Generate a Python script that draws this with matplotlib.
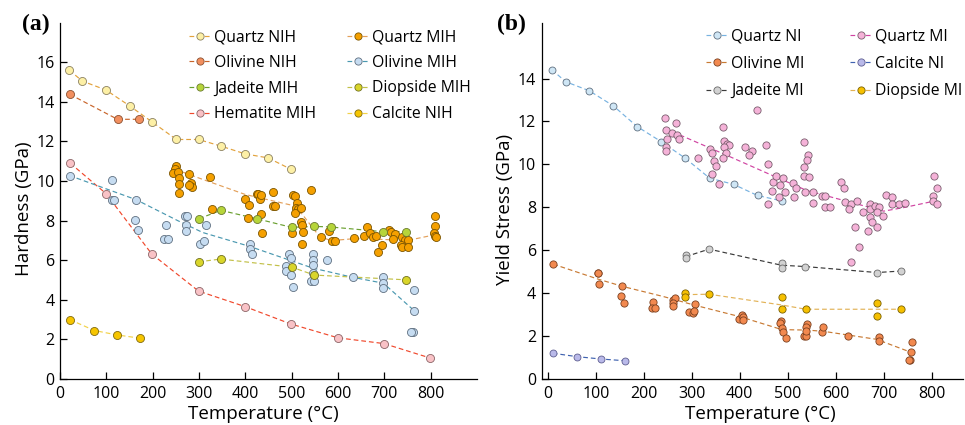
import matplotlib
matplotlib.use('Agg')
import matplotlib.pyplot as plt
from matplotlib.lines import Line2D

plt.rcParams['font.family'] = ['Open Sans', 'DejaVu Sans']

# ---------------- Panel (a): Hardness ----------------
quartz_nih_T = [20, 48, 99, 150, 199, 251, 299, 348, 400, 449, 498]
quartz_nih_H = [15.6, 15.05, 14.6, 13.8, 12.98, 12.1, 12.1, 11.76, 11.37, 11.17, 10.6]

olivine_nih_T = [21, 124, 171]
olivine_nih_H = [14.38, 13.12, 13.12]

hematite_mih_T = [22, 99, 198, 299, 399, 498, 600, 699, 799]
hematite_mih_H = [10.9, 9.37, 6.31, 4.44, 3.66, 2.78, 2.08, 1.79, 1.06]

calcite_nih_T = [21, 74, 122, 173]
calcite_nih_H = [3.0, 2.45, 2.23, 2.06]

jadeite_mih_T = [300, 347, 424, 500, 549, 584, 698, 747]
jadeite_mih_H = [8.1, 8.52, 8.1, 7.66, 7.71, 7.68, 7.44, 7.44]

diopside_mih_T = [299, 347, 500, 549, 747]
diopside_mih_H = [5.92, 6.06, 5.65, 5.25, 5.01]

olivine_mih_T = [22, 113, 113, 117, 164, 162, 169, 229, 224, 233, 270, 274, 271, 271,
                 316, 301, 310, 411, 410, 414, 494, 498, 488, 488, 498, 503,
                 547, 547, 547, 577, 545, 541, 548, 632, 698, 697, 698, 765, 765, 761, 757]
olivine_mih_H = [10.28, 10.04, 9.06, 9.04, 9.06, 8.05, 7.51, 7.76, 7.09, 7.09, 8.22, 8.22, 7.76, 7.5,
                 7.76, 6.84, 6.99, 6.84, 6.55, 6.31, 6.31, 6.1, 5.71, 5.45, 5.23, 4.63,
                 6.31, 6.03, 5.77, 5.99, 5.35, 4.97, 4.97, 5.13, 5.13, 4.87, 4.62, 4.5, 3.44, 2.36, 2.36]
olivine_mih_trend_T = [20, 164, 254, 308, 409, 496, 546, 633, 698, 765]
olivine_mih_trend_H = [10.28, 9.06, 8.0, 7.4, 6.7, 6.0, 5.6, 5.13, 4.84, 3.44]

quartz_mih_T = [251, 249, 244, 254, 257, 257, 256, 279, 282, 284, 278, 323, 328,
                400, 408, 406, 424, 428, 432, 434, 434, 435, 459, 460, 464,
                503, 507, 511, 509, 514, 507, 519, 521, 523, 525, 500, 522, 542,
                563, 580, 587, 593, 634, 656, 663, 668, 676, 683, 686, 695,
                711, 715, 722, 719, 738, 744, 752, 735, 739, 752, 810, 810, 807, 810, 812]
quartz_mih_H = [10.75, 10.6, 10.41, 10.45, 10.16, 9.87, 9.4, 10.38, 9.91, 9.71, 9.8, 10.23, 8.6,
                9.1, 8.78, 8.12, 9.37, 9.37, 9.08, 9.28, 8.35, 7.36, 9.45, 8.73, 8.73,
                9.28, 9.23, 8.88, 8.65, 8.6, 8.37, 8.64, 7.93, 7.8, 7.43, 7.4, 6.8, 9.57,
                7.17, 7.46, 6.99, 6.99, 7.1, 7.2, 7.66, 7.4, 7.16, 7.24, 6.43, 6.76,
                7.51, 7.45, 7.32, 7.07, 7.17, 7.04, 7.04, 6.75, 6.65, 6.65, 8.23, 7.73, 7.36, 7.2, 7.15]
quartz_mih_trend_T = [250, 300, 400, 500, 520, 560, 585, 635, 675, 750, 810]
quartz_mih_trend_H = [10.58, 10.15, 9.32, 8.78, 8.4, 7.2, 6.99, 7.09, 7.07, 7.0, 7.29]

# ---------------- Panel (b): Yield stress ----------------
quartz_ni_T = [8, 37, 86, 136, 186, 236, 286, 337, 387, 437, 487]
quartz_ni_Y = [14.41, 13.85, 13.43, 12.73, 11.76, 11.06, 10.29, 9.36, 9.07, 8.55, 8.3]

calcite_ni_T = [10, 61, 111, 161]
calcite_ni_Y = [1.2, 1.04, 0.93, 0.85]

jadeite_mi_T = [287, 287, 336, 487, 487, 536, 686, 736]
jadeite_mi_Y = [5.78, 5.63, 6.05, 5.42, 5.16, 5.24, 4.96, 5.03]
jadeite_mi_trend_T = [287, 336, 487, 536, 686, 736]
jadeite_mi_trend_Y = [5.7, 6.05, 5.3, 5.24, 4.96, 5.03]

diopside_mi_T = [286, 286, 336, 487, 487, 538, 686, 686, 736]
diopside_mi_Y = [4.02, 3.84, 3.95, 3.84, 3.25, 3.25, 3.54, 2.95, 3.25]
diopside_mi_trend_T = [286, 336, 487, 538, 686, 736]
diopside_mi_trend_Y = [3.93, 3.95, 3.45, 3.25, 3.25, 3.25]

olivine_mi_T = [11, 104, 105, 106, 154, 152, 159, 220, 216, 224, 260, 265, 261, 261,
                307, 294, 302, 305, 398, 404, 406, 406, 485, 484, 489, 491, 496,
                533, 539, 541, 539, 539, 571, 574, 626, 691, 691, 759, 758, 755, 753]
olivine_mi_Y = [5.35, 4.93, 4.93, 4.43, 4.35, 3.86, 3.54, 3.59, 3.31, 3.31, 3.68, 3.76, 3.53, 3.4,
                3.5, 3.11, 3.06, 3.18, 2.78, 2.98, 2.88, 2.75, 2.7, 2.6, 2.39, 2.2, 1.9,
                2.02, 2.02, 2.56, 2.41, 2.25, 2.2, 2.41, 2.0, 1.94, 1.79, 1.71, 1.26, 0.87, 0.87]
olivine_mi_trend_T = [11, 105, 158, 241, 304, 401, 488, 540, 575, 685, 748]
olivine_mi_trend_Y = [5.35, 4.65, 4.3, 3.84, 3.45, 2.9, 2.3, 2.28, 2.22, 1.85, 1.32]

quartz_mi_T = [244, 268, 246, 258, 270, 273, 249, 246, 246,
               312, 338, 343, 366, 368, 373, 378, 368, 371, 364, 347, 350, 343, 357,
               435, 411, 426, 420, 454, 458, 458,
               470, 475, 467, 484, 490, 482, 494, 510, 517, 513,
               533, 543, 540, 533, 533, 545, 537, 553, 552,
               571, 578, 577, 588,
               611, 617, 620, 631, 628, 645, 656, 640, 649, 632,
               672, 672, 672, 675, 668, 682, 691, 687, 686, 699,
               705, 717, 718, 733, 745,
               804, 811, 802, 802, 811]
quartz_mi_Y = [12.15, 11.95, 11.58, 11.48, 11.36, 11.17, 11.2, 10.8, 10.6,
               10.29, 10.71, 10.55, 11.72, 11.11, 10.96, 10.88, 10.83, 10.55, 10.29, 10.16, 9.93, 9.54, 9.09,
               12.54, 10.83, 10.64, 10.44, 10.88, 10.02, 8.16,
               9.2, 9.48, 8.76, 9.04, 9.36, 8.5, 8.69, 9.12, 8.92, 8.5,
               11.02, 10.44, 10.18, 9.9, 9.48, 9.4, 8.69, 8.7, 8.19,
               8.53, 8.53, 8.0, 8.0,
               9.18, 8.92, 8.24, 8.16, 7.91, 8.31, 7.77, 7.07, 6.15, 5.45,
               8.14, 7.93, 7.57, 7.33, 6.91, 8.07, 8.0, 7.79, 7.1, 7.6,
               8.56, 8.5, 8.14, 8.14, 8.22,
               9.48, 8.92, 8.53, 8.27, 8.16]
quartz_mi_trend_T = [275, 370, 456, 540, 620, 700, 745, 808]
quartz_mi_trend_Y = [11.37, 10.45, 9.6, 8.78, 8.3, 7.82, 8.0, 8.3]

# ---------------- figure ----------------
W, H = 965, 425
fig = plt.figure(figsize=(W / 100, H / 100), dpi=100)


def ax_px(l, r, t, b):
    return fig.add_axes([l / W, 1 - b / H, (r - l) / W, (b - t) / H])


axA = ax_px(60.1, 477, 22.7, 379)
axB = ax_px(541.5, 963, 22.7, 379)

DASH = (0, (4, 2.5))


def style(ax):
    for s in ['top', 'right']:
        ax.spines[s].set_visible(False)
    for s in ['left', 'bottom']:
        ax.spines[s].set_linewidth(0.9)
    ax.tick_params(direction='in', length=5, width=0.9, labelsize=11.5, pad=5)
    ax.tick_params(axis='y', pad=4)


def series(ax, xs, ys, lx, ly, face, edge, line, ms, label, z=3):
    ax.plot(lx, ly, ls=DASH, lw=0.85, color=line, zorder=2)
    ax.plot(xs, ys, ls='none', marker='o', ms=ms, mfc=face, mec=edge, mew=0.6, zorder=z)
    return Line2D([], [], color=line, ls=DASH, lw=0.85, marker='o', ms=5.2,
                  mfc=face, mec=edge, mew=0.6, label=label)


# panel (a)
MA = 5.8
h_qn = series(axA, quartz_nih_T, quartz_nih_H, quartz_nih_T, quartz_nih_H,
              '#fdf0a6', '#8a8060', '#e2a23c', MA, 'Quartz NIH')
h_on = series(axA, olivine_nih_T, olivine_nih_H, olivine_nih_T, olivine_nih_H,
              '#f28f5f', '#8a5030', '#c8642a', MA, 'Olivine NIH')
h_hm = series(axA, hematite_mih_T, hematite_mih_H, hematite_mih_T, hematite_mih_H,
              '#f9c2c6', '#8a6466', '#f0482c', MA, 'Hematite MIH')
h_cn = series(axA, calcite_nih_T, calcite_nih_H, calcite_nih_T, calcite_nih_H,
              '#f6c500', '#806a10', '#f2d24a', MA, 'Calcite NIH')
h_qm = series(axA, quartz_mih_T, quartz_mih_H, quartz_mih_trend_T, quartz_mih_trend_H,
              '#f5a000', '#7a5400', '#e3a05a', MA, 'Quartz MIH', z=3)
h_om = series(axA, olivine_mih_T, olivine_mih_H, olivine_mih_trend_T, olivine_mih_trend_H,
              '#c6dcf1', '#5f6f80', '#4a98b0', MA, 'Olivine MIH', z=3)
h_jm = series(axA, jadeite_mih_T, jadeite_mih_H, jadeite_mih_T, jadeite_mih_H,
              '#b6d53a', '#6a7a30', '#6aa030', MA, 'Jadeite MIH', z=4)
h_dm = series(axA, diopside_mih_T, diopside_mih_H, diopside_mih_T, diopside_mih_H,
              '#d9d52a', '#707020', '#c2c048', MA, 'Diopside MIH', z=4)

axA.set_xlim(0, 900)
axA.set_ylim(0, 18)
axA.set_xticks(range(0, 801, 100))
axA.set_yticks(range(0, 17, 2))
style(axA)
axA.set_xlabel('Temperature (°C)', fontsize=13.5)
axA.xaxis.set_label_coords(0.488, -0.074)
axA.set_ylabel('Hardness (GPa)', fontsize=13.5)
axA.yaxis.set_label_coords(-0.064, 0.477)

# panel (b)
MB = 5.2
h_bqn = series(axB, quartz_ni_T, quartz_ni_Y, quartz_ni_T, quartz_ni_Y,
               '#cfe6f5', '#5f6f80', '#78b2e0', 5.0, 'Quartz NI')
h_bcn = series(axB, calcite_ni_T, calcite_ni_Y, calcite_ni_T, calcite_ni_Y,
               '#b9b9e9', '#5e5e90', '#3f62b0', 5.0, 'Calcite NI')
h_bjm = series(axB, jadeite_mi_T, jadeite_mi_Y, jadeite_mi_trend_T, jadeite_mi_trend_Y,
               '#d2d2d2', '#6a6a6a', '#3a3a3a', 5.0, 'Jadeite MI')
h_bdm = series(axB, diopside_mi_T, diopside_mi_Y, diopside_mi_trend_T, diopside_mi_trend_Y,
               '#f6c000', '#7a6000', '#e2b256', MB, 'Diopside MI')
h_bom = series(axB, olivine_mi_T, olivine_mi_Y, olivine_mi_trend_T, olivine_mi_trend_Y,
               '#f2894f', '#7a4020', '#c87a34', MB, 'Olivine MI')
h_bqm = series(axB, quartz_mi_T, quartz_mi_Y, quartz_mi_trend_T, quartz_mi_trend_Y,
               '#f5b2d8', '#7a5e6e', '#d044a2', MB, 'Quartz MI')

axB.set_xlim(-13.5, 865.5)
axB.set_ylim(0, 16.6)
axB.set_xticks(range(0, 801, 100))
axB.set_yticks(range(0, 15, 2))
style(axB)
axB.set_xlabel('Temperature (°C)', fontsize=13.5)
axB.xaxis.set_label_coords(0.52, -0.074)
axB.set_ylabel('Yield Stress (GPa)', fontsize=13.5)
axB.yaxis.set_label_coords(-0.065, 0.477)


def leg(ax, handles, x, y, add, spacing):
    lg = ax.legend(handles=handles, loc='upper left',
                   bbox_to_anchor=(x / W, 1 - y / H), bbox_transform=fig.transFigure,
                   frameon=False, fontsize=11.3, handlelength=1.45, handletextpad=0.15,
                   labelspacing=spacing, borderpad=0, borderaxespad=0)
    if add:
        ax.add_artist(lg)
    return lg


leg(axA, [h_qn, h_on, h_jm, h_hm], 189, 29, True, 0.62)
leg(axA, [h_qm, h_om, h_dm, h_cn], 347, 29, False, 0.62)
leg(axB, [h_bqn, h_bom, h_bjm], 705.7, 28.5, True, 0.72)
leg(axB, [h_bqm, h_bcn, h_bdm], 850, 28.5, False, 0.72)

fig.text(22 / W, 1 - 24 / H, '(a)', fontsize=17, fontweight='bold',
         family='Liberation Serif', va='center', ha='left')
fig.text(497 / W, 1 - 24 / H, '(b)', fontsize=17, fontweight='bold',
         family='Liberation Serif', va='center', ha='left')

fig.savefig('out.png', dpi=100)
